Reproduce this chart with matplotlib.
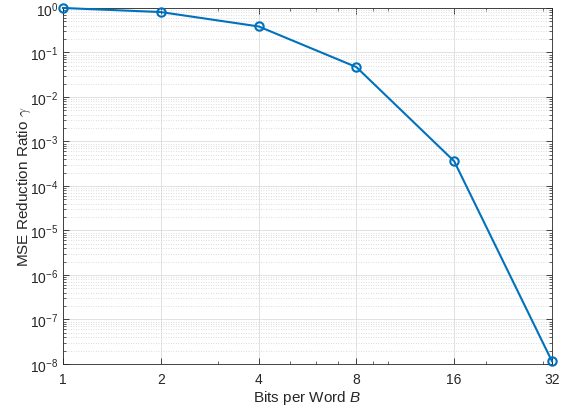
import matplotlib
matplotlib.use("Agg")
import matplotlib.pyplot as plt
from matplotlib.ticker import FixedLocator, NullFormatter, LogLocator

plt.rcParams['font.family'] = ['Liberation Sans', 'DejaVu Sans']
plt.rcParams['mathtext.fontset'] = 'custom'
plt.rcParams['mathtext.rm'] = 'Liberation Sans'
plt.rcParams['mathtext.it'] = 'Liberation Sans:italic'

bits = [1, 2, 4, 8, 16, 32]
ratio = [1.0, 0.81, 0.385, 0.047, 3.6e-4, 1.15e-8]
xtick_labels = ['1', '2', '4', '8', '16', '32']

fig = plt.figure(figsize=(5.69, 4.14), dpi=100)
ax = fig.add_axes([0.1107, 0.1184, 0.8594, 0.8599])

color = '#0072BD'
ax.plot(bits, ratio, '-o', color=color, lw=1.5, ms=6, mfc='none', mew=1.5, clip_on=False, zorder=5)

ax.set_xscale('log', base=2)
ax.set_yscale('log')
ax.set_xlim(1, 32)
ax.set_ylim(1e-8, 1)

ax.set_xticks(bits)
ax.set_xticklabels(xtick_labels)
ax.xaxis.set_minor_locator(FixedLocator([3, 5, 6, 7, 9, 10, 20, 30]))
ax.xaxis.set_minor_formatter(NullFormatter())
ax.yaxis.set_major_locator(LogLocator(base=10, numticks=20))
ax.yaxis.set_minor_locator(LogLocator(base=10, subs=range(2, 10), numticks=100))
ax.yaxis.set_minor_formatter(NullFormatter())

txtc = '#262626'
ax.tick_params(which='both', direction='in', top=True, right=True, colors=txtc, labelsize=10)
ax.tick_params(which='major', length=4, width=0.6)
ax.tick_params(which='minor', length=2.5, width=0.5)
ax.tick_params(axis='x', which='major', pad=6)
for s in ax.spines.values():
    s.set_color(txtc)
    s.set_linewidth(0.6)

ax.grid(True, which='major', color='#dcdcdc', lw=0.6, ls='-')
ax.grid(True, which='minor', axis='y', color='#d0d0d0', lw=0.6, ls=(0, (1, 2)))
ax.set_axisbelow(True)

ax.set_xlabel('Bits per Word $B$', fontsize=11, color=txtc, labelpad=1)
ax.set_ylabel(r'MSE Reduction Ratio $\gamma$', fontsize=11, color=txtc, labelpad=-2,
              math_fontfamily='cm')

fig.savefig('out.png', dpi=100)
